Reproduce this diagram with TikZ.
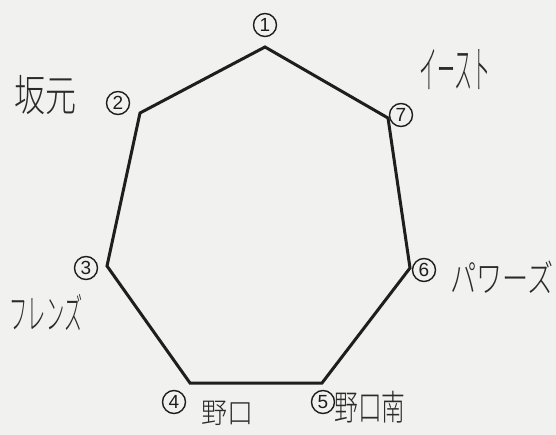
\documentclass[tikz,border=0pt]{standalone}
\usepackage{fontspec}
\newfontfamily\jpfont{Noto Sans CJK JP Light}
\newfontfamily\numfont{Liberation Sans}
\definecolor{paper}{HTML}{F1F1EF}
\definecolor{ink}{HTML}{1E1E1E}
\definecolor{pen}{HTML}{2A2A2A}
\begin{document}
\begin{tikzpicture}[x=1pt,y=-1pt,
  numlbl/.style={circle, draw=ink, line width=1.4pt, minimum size=23pt, inner sep=0pt,
     font=\numfont\fontsize{19}{19}\selectfont, text=ink},
  hand/.style={font=\jpfont\fontsize{#1}{#1}\selectfont, text=pen, inner sep=0pt},
  edge/.style={line width=3pt, draw=ink, line join=miter}]
\fill[paper] (0,0) rectangle (556,435);
\useasboundingbox (0,0) rectangle (556,435);
\coordinate (v1) at (265,47);
\coordinate (v2) at (140,113);
\coordinate (v3) at (107,266);
\coordinate (v4) at (190,383);
\coordinate (v5) at (322,383);
\coordinate (v6) at (410,268);
\coordinate (v7) at (388,118);
\draw[edge] (v1) -- (v2) -- (v3) -- (v4) -- (v5) -- (v6) -- (v7) -- cycle;
\node[numlbl] (n1) at (265,25) {1};
\node[numlbl] (n2) at (118,103) {2};
\node[numlbl] (n3) at (86,268) {3};
\node[numlbl] (n4) at (174,402) {4};
\node[numlbl] (n5) at (323,402) {5};
\node[numlbl] (n6) at (424,270) {6};
\node[numlbl] (n7) at (401,115) {7};
\node[hand=31] (t2) at (45,95) {\scalebox{1}[1.4]{坂元}};
\node[hand=30] (t7) at (455,70) {\scalebox{0.6}[1.7]{イースト}};
\node[hand=28] (t3) at (46,313) {\scalebox{0.65}[1.5]{フレンズ}};
\node[hand=29] (t6) at (502,277) {\scalebox{0.9}[1.3]{パワーズ}};
\node[hand=26] (t4) at (227,413) {\scalebox{1}[1.1]{野口}};
\node[hand=25] (t5) at (370,407) {\scalebox{0.95}[1.4]{野口南}};
\end{tikzpicture}
\end{document}
